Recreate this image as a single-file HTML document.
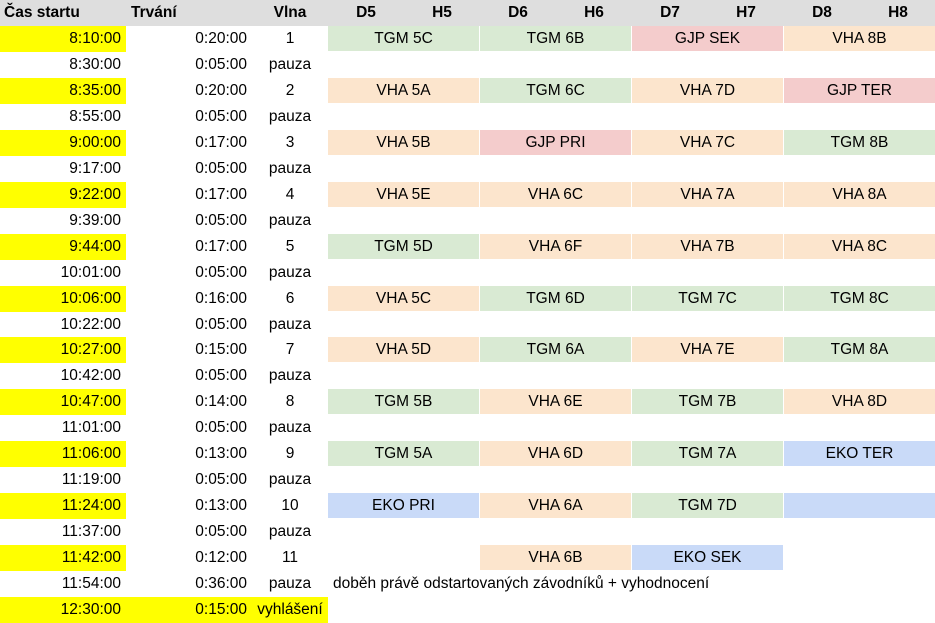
<!DOCTYPE html>
<html><head><meta charset="utf-8">
<style>
html,body{margin:0;padding:0;background:#fff;}
body{width:935px;height:623px;position:relative;overflow:hidden;font-family:"Liberation Sans",Arial,sans-serif;font-size:15.5px;color:#000;}
.c{position:absolute;height:26px;line-height:26px;white-space:nowrap;}
.h{font-weight:bold;}
.r{text-align:right;}
.m{text-align:center;}
.g{background:#d9ead3}.o{background:#fce5cd}.rd{background:#f4cccc}.b{background:#c9daf8}.y{background:#ffff00}
</style></head>
<body>
<div class="c" style="left:0;top:0;width:935px;background:#dedede"></div>
<div class="c h" style="left:4px;top:0">Čas startu</div>
<div class="c h" style="left:131px;top:0">Trvání</div>
<div class="c h m" style="left:252px;top:0;width:76px">Vlna</div>
<div id="hdrs"></div>
<script>
const heads=['D5','H5','D6','H6','D7','H7','D8','H8'];
const rows=[
['8:10:00','0:20:00','1',[['TGM 5C','g'],['TGM 6B','g'],['GJP SEK','rd'],['VHA 8B','o']]],
['8:30:00','0:05:00','pauza',null],
['8:35:00','0:20:00','2',[['VHA 5A','o'],['TGM 6C','g'],['VHA 7D','o'],['GJP TER','rd']]],
['8:55:00','0:05:00','pauza',null],
['9:00:00','0:17:00','3',[['VHA 5B','o'],['GJP PRI','rd'],['VHA 7C','o'],['TGM 8B','g']]],
['9:17:00','0:05:00','pauza',null],
['9:22:00','0:17:00','4',[['VHA 5E','o'],['VHA 6C','o'],['VHA 7A','o'],['VHA 8A','o']]],
['9:39:00','0:05:00','pauza',null],
['9:44:00','0:17:00','5',[['TGM 5D','g'],['VHA 6F','o'],['VHA 7B','o'],['VHA 8C','o']]],
['10:01:00','0:05:00','pauza',null],
['10:06:00','0:16:00','6',[['VHA 5C','o'],['TGM 6D','g'],['TGM 7C','g'],['TGM 8C','g']]],
['10:22:00','0:05:00','pauza',null],
['10:27:00','0:15:00','7',[['VHA 5D','o'],['TGM 6A','g'],['VHA 7E','o'],['TGM 8A','g']]],
['10:42:00','0:05:00','pauza',null],
['10:47:00','0:14:00','8',[['TGM 5B','g'],['VHA 6E','o'],['TGM 7B','g'],['VHA 8D','o']]],
['11:01:00','0:05:00','pauza',null],
['11:06:00','0:13:00','9',[['TGM 5A','g'],['VHA 6D','o'],['TGM 7A','g'],['EKO TER','b']]],
['11:19:00','0:05:00','pauza',null],
['11:24:00','0:13:00','10',[['EKO PRI','b'],['VHA 6A','o'],['TGM 7D','g'],['','b']]],
['11:37:00','0:05:00','pauza',null],
['11:42:00','0:12:00','11',[null,['VHA 6B','o'],['EKO SEK','b'],null]],
['11:54:00','0:36:00','pauza','note'],
['12:30:00','0:15:00','vyhlášení','award']
];
const RH=25.96;
const body=document.body;
function add(cls,txt,l,t,w,h){const d=document.createElement('div');d.className='c '+cls;d.style.left=l+'px';d.style.top=t+'px';if(w)d.style.width=w+'px';if(h)d.style.height=h+'px';d.textContent=txt;body.appendChild(d);return d;}
heads.forEach((h,i)=>{const d=add('h m',h,328+i*76+ (i%2?0:0),0,76);

});
rows.forEach((r,i)=>{
 const t=RH*(i+1);
 const wave=r[2]!=='pauza';
 if(r[3]==='award'){const bg=add('y','',0,t,328);
 
 }
 const a=add('r'+(wave?' y':''),r[0],0,t,121);
 
 
 if(wave){a.style.width='126px';a.style.paddingRight='0';a.style.boxSizing='border-box';a.style.paddingRight='5px';}
 const b=add('r',r[1],126,t,121);
 
 
 const c=add('m',r[2],252,t,76);
 
 
 if(r[3]==='note'){const n=add('','doběh právě odstartovaných závodníků + vyhodnocení',333,t);
 
 }
 else if(Array.isArray(r[3])){r[3].forEach((cell,j)=>{if(!cell)return;
  const w=j===3?151:151;
  const d=add('m '+cell[1],cell[0],328+j*152,t,w,25);
  d.style.lineHeight='26px';
  
  });}
});
</script>
</body></html>
